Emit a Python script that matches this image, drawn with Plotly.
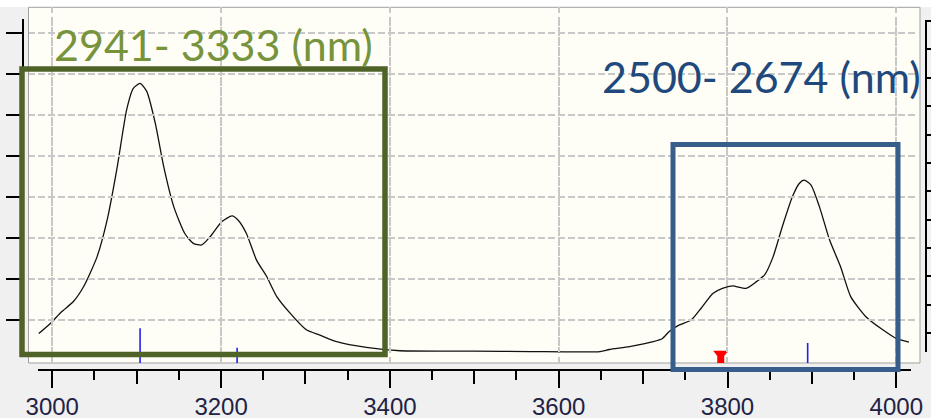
import plotly.graph_objects as go

# ---- data ----
wn = [2984, 2998, 3011, 3025, 3037, 3053, 3065, 3077, 3088, 3096, 3104, 3112, 3122, 3132,
      3144, 3157, 3167, 3177, 3187, 3201, 3213, 3220, 3230, 3242, 3254, 3266, 3282, 3301,
      3317, 3337, 3372, 3412, 3500, 3566, 3649, 3660, 3684, 3712, 3723, 3731, 3743, 3757,
      3767, 3783, 3794, 3806, 3822, 3834, 3844, 3854, 3865, 3877, 3885, 3891, 3899, 3909,
      3921, 3934, 3946, 3964, 3984, 4000, 4015]
intensity = [0.67, 0.92, 1.20, 1.45, 1.81, 2.54, 3.44, 4.74, 6.12, 6.65, 6.77, 6.57, 5.80, 4.74,
             3.76, 3.11, 2.87, 2.83, 3.03, 3.40, 3.54, 3.44, 3.11, 2.46, 2.06, 1.57, 1.16, 0.76,
             0.63, 0.47, 0.33, 0.25, 0.24, 0.23, 0.23, 0.28, 0.35, 0.47, 0.55, 0.72, 0.88, 1.00,
             1.24, 1.65, 1.77, 1.83, 1.77, 1.93, 2.10, 2.54, 3.28, 4.01, 4.33, 4.41, 4.29, 3.76,
             2.95, 2.30, 1.57, 1.08, 0.76, 0.55, 0.46]
stick_x = [3104, 3219, 3895]
stick_h = [0.80, 0.32, 0.44]
marker_x = [3792]
marker_top_y = [0.17]
marker_base_y = [0.03]
label_ticks = list(range(3000, 4001, 200))
mid_ticks = list(range(3100, 4000, 200))
grid_x = [3000, 3200, 3400, 3600, 3800, 4000]
grid_y = [1, 2, 3, 4, 5, 6, 7, 8]
label_green = "2941- 3333 (nm)"
label_blue = "2500- 2674 (nm)"

W, H = 931, 418
def fx(p):
    return p / W
def fy(p):
    return 1 - p / H

Y_BASE = -0.049
sx, sy = [], []
for xv, hv in zip(stick_x, stick_h):
    sx += [xv, xv, None]
    sy += [Y_BASE, hv, None]

fig = go.Figure()
fig.add_trace(go.Scatter(x=wn, y=intensity, mode="lines",
                         line=dict(color="#111111", width=1.3, shape="spline", smoothing=0.6),
                         showlegend=False))
fig.add_trace(go.Scatter(x=sx, y=sy, mode="lines",
                         line=dict(color="#2020F0", width=1.6), showlegend=False))
fig.add_trace(go.Scatter(x=marker_x, y=marker_top_y, mode="markers",
                         marker=dict(symbol="triangle-down", size=13, color="#FF0000",
                                     line=dict(width=0)),
                         showlegend=False))
fig.add_trace(go.Scatter(x=marker_x, y=marker_base_y, mode="markers",
                         marker=dict(symbol="square", size=7, color="#FF0000",
                                     line=dict(width=0)),
                         showlegend=False))
# helper invisible traces for extra axes
fig.add_trace(go.Scatter(x=[None], y=[None], xaxis="x2", yaxis="y", showlegend=False))
fig.add_trace(go.Scatter(x=[None], y=[None], xaxis="x3", yaxis="y", showlegend=False))
fig.add_trace(go.Scatter(x=[None], y=[None], xaxis="x", yaxis="y2", showlegend=False))
fig.add_trace(go.Scatter(x=[None], y=[None], xaxis="x", yaxis="y3", showlegend=False))

grid = dict(showgrid=True, gridcolor="#C8C8C8", gridwidth=1.5, griddash="6px,4px")
X2_RANGE = [2983.1, 4017.4]

fig.update_layout(
    template="none",
    width=W, height=H, autosize=False,
    margin=dict(l=0, r=0, t=0, b=0, pad=0),
    paper_bgcolor="#F0F0F0", plot_bgcolor="rgba(0,0,0,0)",
    showlegend=False,
    xaxis=dict(domain=[fx(28.5), fx(920)], range=[2971.8, 4028.1], automargin=False,
               tickmode="array", tickvals=grid_x, showticklabels=False, ticks="",
               showline=False, zeroline=False, **grid),
    yaxis=dict(domain=[fy(363), fy(7.3)], range=[Y_BASE, 8.627], automargin=False,
               tickmode="array", tickvals=grid_y, showticklabels=False, ticks="",
               showline=False, zeroline=False, **grid),
    xaxis2=dict(domain=[fx(38), fx(911)], range=X2_RANGE, anchor="free",
                position=fy(370), showgrid=False, zeroline=False, automargin=False,
                showline=True, linecolor="#000000", linewidth=1.5,
                tickmode="array", tickvals=label_ticks,
                ticks="outside", ticklen=17, tickwidth=1.5, tickcolor="#000000",
                ticklabelstandoff=-2,
                minor=dict(dtick=50, tick0=3000, ticks="outside", ticklen=9,
                           tickwidth=1.5, tickcolor="#000000", showgrid=False),
                tickfont=dict(family="Liberation Sans", size=24, color="#222244")),
    xaxis3=dict(domain=[fx(38), fx(911)], range=X2_RANGE, anchor="free",
                position=fy(370), showgrid=False, zeroline=False, automargin=False,
                showline=False, showticklabels=False,
                tickmode="array", tickvals=mid_ticks,
                ticks="outside", ticklen=13, tickwidth=1.5, tickcolor="#000000"),
    yaxis2=dict(domain=[fy(352), fy(19)], range=[(361 - 352) / 41, (361 - 19) / 41],
                anchor="free", position=fx(23), side="left", automargin=False,
                showgrid=False, zeroline=False, showticklabels=False,
                showline=True, linecolor="#000000", linewidth=1.5,
                dtick=1, tick0=0, ticks="outside", ticklen=16, tickwidth=1.5,
                tickcolor="#000000"),
    yaxis3=dict(domain=[fy(352), fy(20)], range=[(361.4 - 352) / 28.4, (361.4 - 19.5) / 28.4],
                anchor="free", position=fx(926), side="right", automargin=False,
                showgrid=False, zeroline=False, showticklabels=False,
                showline=True, linecolor="#000000", linewidth=1.5,
                dtick=1, tick0=0, ticks="outside", ticklen=8, tickwidth=1.5,
                tickcolor="#000000"),
    shapes=[
        dict(type="rect", xref="paper", yref="paper", x0=0, x1=1, y0=fy(7), y1=1,
             fillcolor="#FFFFFF", line=dict(width=0), layer="below"),
        dict(type="rect", xref="paper", yref="paper", x0=fx(28.5), x1=fx(920),
             y0=fy(363), y1=fy(7.3), fillcolor="#FEFEF6",
             line=dict(color="#A0A0A0", width=1), layer="below"),
        dict(type="rect", xref="paper", yref="paper", x0=fx(22), x1=fx(385),
             y0=fy(354.5), y1=fy(69), line=dict(color="#4F6228", width=5.5),
             fillcolor="rgba(0,0,0,0)", layer="above"),
        dict(type="rect", xref="paper", yref="paper", x0=fx(673), x1=fx(898),
             y0=fy(369.5), y1=fy(144.5), line=dict(color="#385D8A", width=5),
             fillcolor="rgba(0,0,0,0)", layer="above"),
    ],
    annotations=[
        dict(xref="x", yref="y", x=3175, y=3.76, text="2", showarrow=False,
             font=dict(family="Lato", size=22, color="rgba(255,255,255,0.85)")),
        dict(xref="paper", yref="paper", x=fx(52), y=fy(44), xanchor="left", yanchor="middle",
             text=label_green, showarrow=False,
             font=dict(family="Lato", size=43, color="#77933C")),
        dict(xref="paper", yref="paper", x=fx(600), y=fy(76), xanchor="left", yanchor="middle",
             text=label_blue, showarrow=False,
             font=dict(family="Lato", size=43, color="#1F497D")),
    ],
)

fig.write_html("out.html", config={"displayModeBar": False},
               post_script="document.body.style.margin='0px';")
